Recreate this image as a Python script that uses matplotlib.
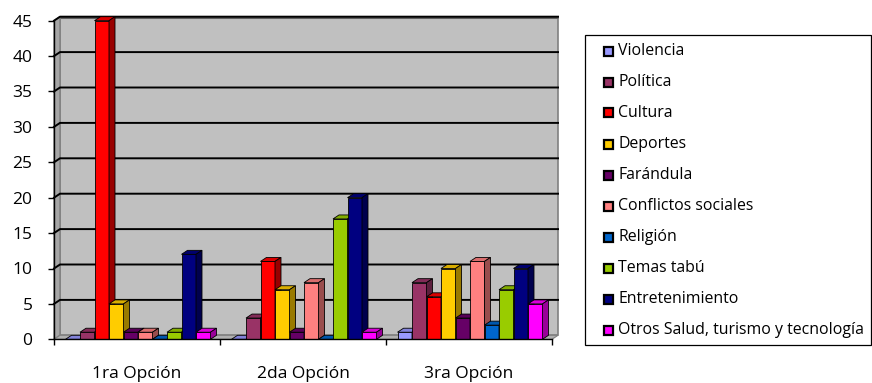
import numpy as np
import matplotlib
matplotlib.use("Agg")
import matplotlib.pyplot as plt
from matplotlib.patches import Polygon, Rectangle
from matplotlib.colors import to_rgb

plt.rcParams['font.family'] = ['Open Sans', 'DejaVu Sans']

categorias = ['1ra Opción', '2da Opción', '3ra Opción']
temas = ['Violencia', 'Política', 'Cultura', 'Deportes', 'Farándula',
         'Conflictos sociales', 'Religión', 'Temas tabú', 'Entretenimiento',
         'Otros Salud, turismo y tecnología']
colores = ['#9999FF', '#993366', '#FF0000', '#FFCC00', '#660066',
           '#FF8080', '#0066CC', '#99CC00', '#000080', '#FF00FF']

violencia = [0, 0, 1]
politica = [1, 3, 8]
cultura = [45, 11, 6]
deportes = [5, 7, 10]
farandula = [1, 1, 3]
conflictos = [1, 8, 11]
religion = [0, 0, 2]
tabu = [1, 17, 7]
entretenimiento = [12, 20, 10]
otros = [1, 1, 5]

series = [violencia, politica, cultura, deportes, farandula,
          conflictos, religion, tabu, entretenimiento, otros]

W, H = 8.72, 3.83
fig = plt.figure(figsize=(W, H), dpi=100)
ax = fig.add_axes([54 / 872, 1 - 339.3 / 383, 498 / 872, 318.6 / 383])
ax.set_xlim(0, 3)
ax.set_ylim(0, 45)

# depth of the pseudo-3D box, in data units
dx = 6 / 166
dy = 4 / 7.08


def shade(c, f):
    r, g, b = to_rgb(c)
    return (r * f, g * f, b * f)


# back wall, side wall and floor
ax.add_patch(Polygon([(dx, dy), (3 + dx, dy), (3 + dx, 45 + dy), (dx, 45 + dy)],
                     closed=True, fc='#C0C0C0', ec='#808080', lw=1.2,
                     clip_on=False, zorder=0))
ax.add_patch(Polygon([(0, 0), (dx, dy), (dx, 45 + dy), (0, 45)],
                     closed=True, fc='#A6A6A6', ec='#808080', lw=1.0,
                     clip_on=False, zorder=0.5))
ax.add_patch(Polygon([(0, 0), (3, 0), (3 + dx, dy), (dx, dy)],
                     closed=True, fc='#B0B0B0', ec='#808080', lw=0.8,
                     clip_on=False, zorder=0.5))
ax.plot([dx, 3 + dx], [45 + dy, 45 + dy], color='#606060', lw=2.2,
        clip_on=False, zorder=0.6, solid_capstyle='butt')

# gridlines on the walls
for v in range(5, 46, 5):
    ax.plot([0, dx, 3 + dx], [v, v + dy, v + dy], color='black', lw=1.4,
            clip_on=False, zorder=0.7)

# bars
w = 14.5 / 166
off = 11.5 / 166
x = np.arange(len(categorias))
for i, (vals, col) in enumerate(zip(series, colores)):
    left = x + off + i * w
    ax.bar(left, vals, width=w, align='edge', color=col, edgecolor='black',
           linewidth=0.6, zorder=2 + i * 0.1)
    for l, v in zip(left, vals):
        ax.add_patch(Polygon([(l, v), (l + w, v), (l + w + dx, v + dy), (l + dx, v + dy)],
                             closed=True, fc=shade(col, 0.85), ec='black', lw=0.6,
                             zorder=2 + i * 0.1, clip_on=False))
        ax.add_patch(Polygon([(l + w, 0), (l + w + dx, dy), (l + w + dx, v + dy), (l + w, v)],
                             closed=True, fc=shade(col, 0.6), ec='black', lw=0.6,
                             zorder=2 + i * 0.1, clip_on=False))

for s in ['top', 'right']:
    ax.spines[s].set_visible(False)
ax.spines['left'].set_linewidth(1.0)
ax.spines['bottom'].set_linewidth(1.0)
ax.spines['left'].set_zorder(5)
ax.spines['bottom'].set_zorder(5)

ax.set_yticks(range(0, 46, 5))
ax.tick_params(axis='y', direction='out', length=4.5, width=1, pad=11, labelsize=12.5)
ax.set_xticks([0, 1, 2, 3])
ax.set_xticklabels([])
ax.tick_params(axis='x', which='major', direction='out', length=4.5, width=1)
ax.set_xticks(x + 0.5, minor=True)
ax.set_xticklabels(categorias, minor=True)
ax.tick_params(axis='x', which='minor', length=0, pad=19, labelsize=12.5)

# legend box
fig.patches.append(Rectangle((585 / 872, 1 - 345 / 383), 286 / 872, 310 / 383,
                             transform=fig.transFigure, fc='white', ec='black',
                             lw=0.9))
for i, (nombre, col) in enumerate(zip(temas, colores)):
    yc = 51 + 31 * i
    fig.patches.append(Rectangle((604 / 872, 1 - (yc + 4.5) / 383), 9 / 872, 9 / 383,
                                 transform=fig.transFigure, fc=col, ec='black',
                                 lw=1.6))
    fig.text(618 / 872, 1 - yc / 383, nombre, fontsize=11.4, va='center', ha='left')

fig.savefig('out.png', dpi=100)
